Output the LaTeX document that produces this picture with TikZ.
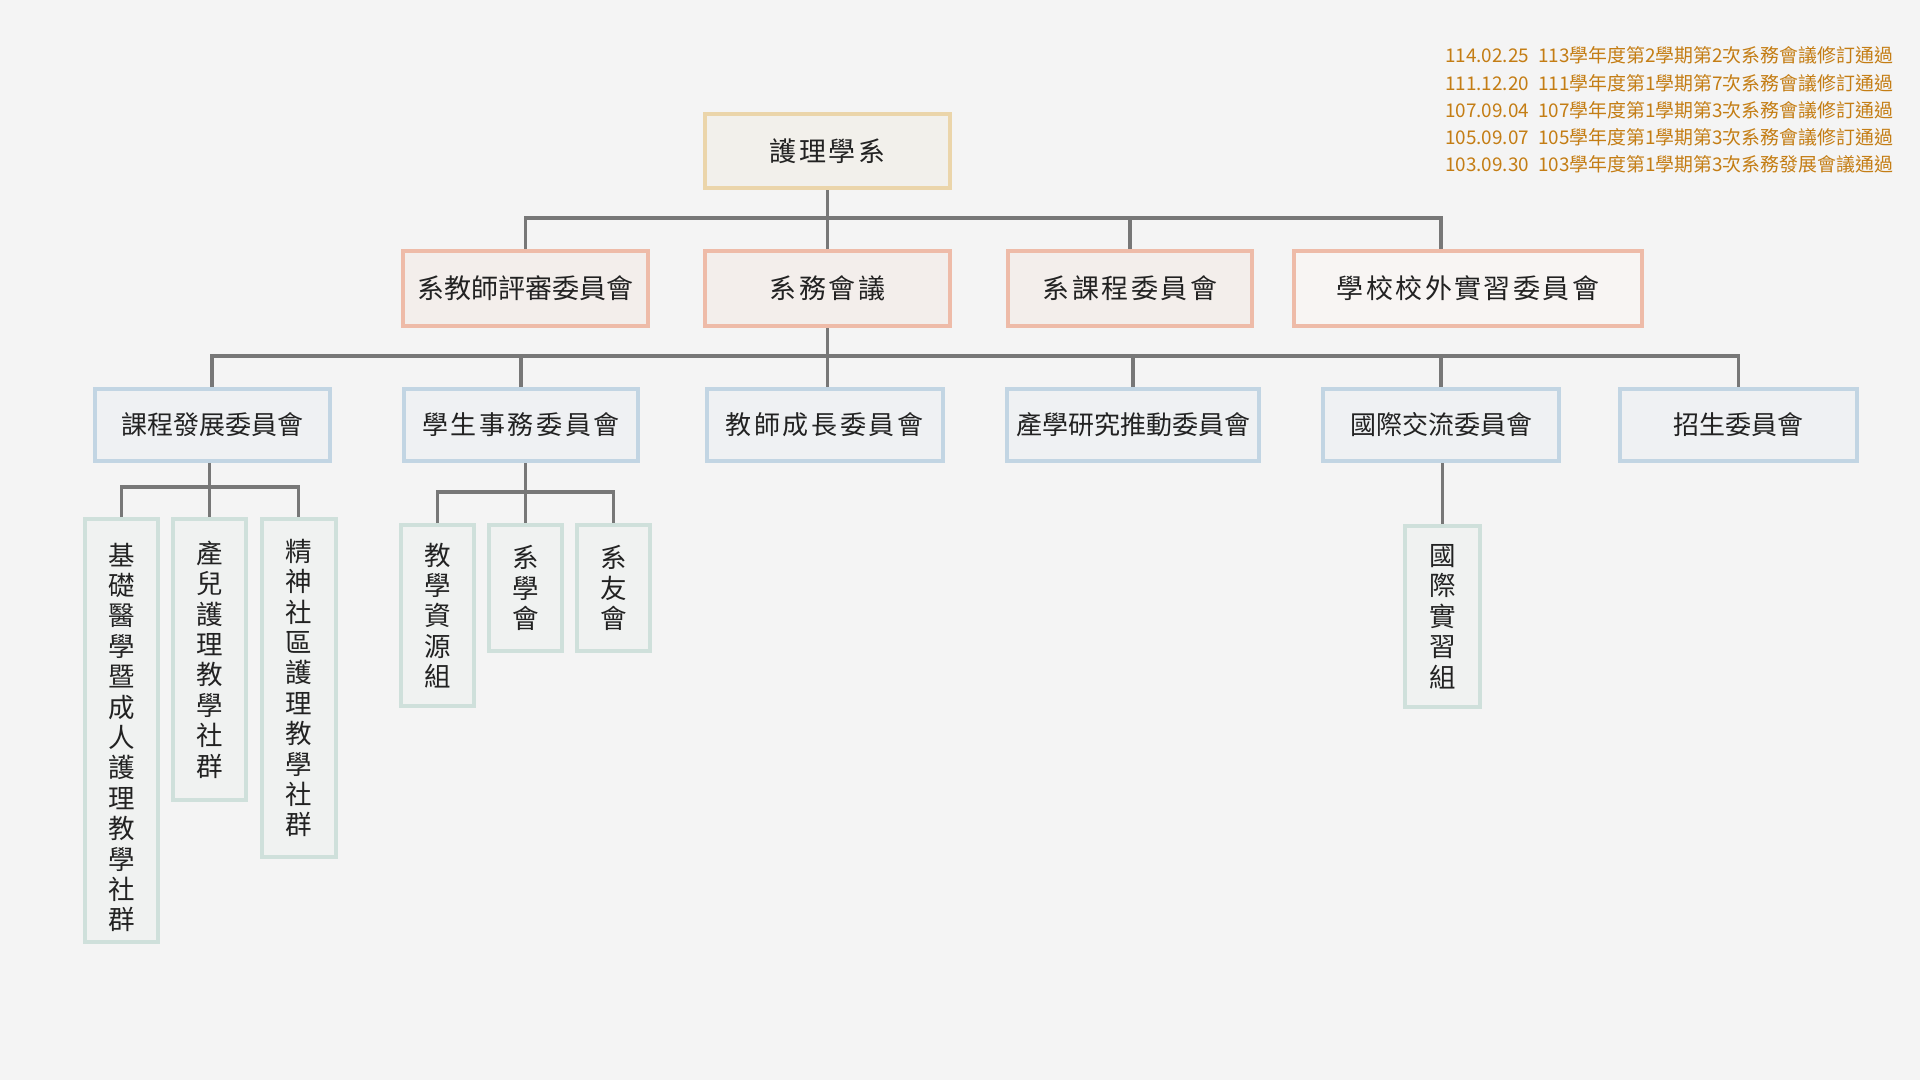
\documentclass[tikz,border=0pt]{standalone}
\usepackage{fontspec}
\setmainfont{Noto Sans CJK TC}
\newcommand\lsp[1]{\addfontfeatures{LetterSpace=#1}}
\newcommand\vtext[1]{\vbox{\baselineskip=30.4pt\lineskiplimit=-1000pt\lineskip=0pt\halign{\hfil##\hfil\cr#1\crcr}}}
\definecolor{bgc}{HTML}{F4F4F4}
\definecolor{linec}{HTML}{777777}
\definecolor{txtc}{HTML}{222222}
\definecolor{rootb}{HTML}{EBD5AA}
\definecolor{rootf}{HTML}{F2F0EB}
\definecolor{secb}{HTML}{EEBBA8}
\definecolor{secf}{HTML}{F3EEEB}
\definecolor{thrb}{HTML}{C2D5E3}
\definecolor{thrf}{HTML}{EFF1F3}
\definecolor{forb}{HTML}{CFE0DB}
\definecolor{forf}{HTML}{F0F2F1}
\definecolor{datec}{HTML}{C47D14}
\begin{document}
\begin{tikzpicture}[x=1pt,y=-1pt,
  conn/.style={draw=linec, line width=3.5pt},
  box/.style={draw, line width=4pt, inner sep=0pt, align=center, text=txtc},
  rootbox/.style={box, draw=rootb, fill=rootf, font=\fontsize{27}{30}\selectfont},
  secbox/.style={box, draw=secb, fill=secf, minimum height=75pt, font=\fontsize{27}{30}\selectfont},
  thrbox/.style={box, draw=thrb, fill=thrf, minimum height=72pt, font=\fontsize{26}{30}\selectfont},
  forbox/.style={box, draw=forb, fill=forf, font=\fontsize{26.5}{30.4}\selectfont},
  datetext/.style={anchor=west, inner sep=0pt, text=datec, font=\fontsize{18.9}{22}\selectfont}
]
\useasboundingbox (0,0) rectangle (1920,1080);
\fill[bgc] (0,0) rectangle (1920,1080);

% revision notes
\node[datetext] (d1) at (1445,55.7) {114.02.25\hspace{9pt}113學年度第2學期第2次系務會議修訂通過};
\node[datetext] (d2) at (1445,83.3) {111.12.20\hspace{9pt}111學年度第1學期第7次系務會議修訂通過};
\node[datetext] (d3) at (1445,110.5) {107.09.04\hspace{9pt}107學年度第1學期第3次系務會議修訂通過};
\node[datetext] (d4) at (1445,137.5) {105.09.07\hspace{9pt}105學年度第1學期第3次系務會議修訂通過};
\node[datetext] (d5) at (1445,164) {103.09.30\hspace{9pt}103學年度第1學期第3次系務發展會議通過};

% level 1
\node[rootbox, minimum width=245pt, minimum height=74pt] (root) at (827.5,151) {\lsp{9}護理學系};

% level 2
\node[secbox, minimum width=245pt] (B1) at (525.5,288.5) {系教師評審委員會};
\node[secbox, minimum width=245pt] (B2) at (827.5,288.5) {\lsp{9}系務會議};
\node[secbox, minimum width=244pt] (B3) at (1130,288.5) {\lsp{9}系課程委員會};
\node[secbox, minimum width=348pt, fill=secf!60!white] (B4) at (1468,288.5) {\lsp{9}學校校外實習委員會};

% level 3
\node[thrbox, minimum width=235pt] (C1) at (212,425) {課程發展委員會};
\node[thrbox, minimum width=234pt] (C2) at (521,425) {\lsp{10}學生事務委員會};
\node[thrbox, minimum width=236pt] (C3) at (824.5,425) {\lsp{10}教師成長委員會};
\node[thrbox, minimum width=252pt] (C4) at (1133,425) {產學研究推動委員會};
\node[thrbox, minimum width=236pt] (C5) at (1441,425) {國際交流委員會};
\node[thrbox, minimum width=237pt] (C6) at (1738.5,425) {招生委員會};

% level 4
\node[forbox, minimum width=73.5pt, minimum height=423pt] (RA) at (121.25,730.5)
  {\raisebox{-7pt}[\height][\depth]{\vtext{基\cr 礎\cr 醫\cr 學\cr 暨\cr 成\cr 人\cr 護\cr 理\cr 教\cr 學\cr 社\cr 群}}};
\node[forbox, minimum width=73pt, minimum height=281pt] (RB) at (209.25,659.5)
  {\vtext{產\cr 兒\cr 護\cr 理\cr 教\cr 學\cr 社\cr 群}};
\node[forbox, minimum width=74pt, minimum height=338pt] (RC) at (298.65,688)
  {\vtext{精\cr 神\cr 社\cr 區\cr 護\cr 理\cr 教\cr 學\cr 社\cr 群}};
\node[forbox, minimum width=73pt, minimum height=181pt] (RD) at (437.5,615.5)
  {\vtext{教\cr 學\cr 資\cr 源\cr 組}};
\node[forbox, minimum width=73pt, minimum height=126pt] (RE) at (525.5,588)
  {\vtext{系\cr 學\cr 會}};
\node[forbox, minimum width=73pt, minimum height=126pt] (RF) at (613.5,588)
  {\vtext{系\cr 友\cr 會}};
\node[forbox, minimum width=75pt, minimum height=181pt] (RG) at (1442.5,616.5)
  {\vtext{國\cr 際\cr 實\cr 習\cr 組}};

% connectors level 1 -> 2
\coordinate (bus1) at (0,218);
\coordinate (j4) at (1441,249);
\draw[conn] (root.south) -- (B2.north);
\draw[conn] (B1.north) |- (bus1 -| j4) -- (j4);
\draw[conn] (B3.north) -- (B3.north |- bus1);

% connectors level 2 -> 3
\coordinate (bus2) at (0,356);
\draw[conn] (B2.south) -- (B2.south |- C3.north);
\draw[conn] (C1.north) |- (bus2 -| C6.north) -- (C6.north);
\draw[conn] (C2.north) -- (C2.north |- bus2);
\draw[conn] (C4.north) -- (C4.north |- bus2);
\draw[conn] (C5.north) -- (C5.north |- bus2);

% connectors level 3 -> 4
\coordinate (bus3) at (0,487);
\draw[conn] (C1.south -| RB.north) -- (RB.north);
\draw[conn] (RA.north) |- (bus3 -| RC.north) -- (RC.north);
\coordinate (bus4) at (0,492);
\draw[conn] (C2.south -| RE.north) -- (RE.north);
\draw[conn] (RD.north) |- (bus4 -| RF.north) -- (RF.north);
\draw[conn] (C5.south -| RG.north) -- (RG.north);
\end{tikzpicture}
\end{document}
